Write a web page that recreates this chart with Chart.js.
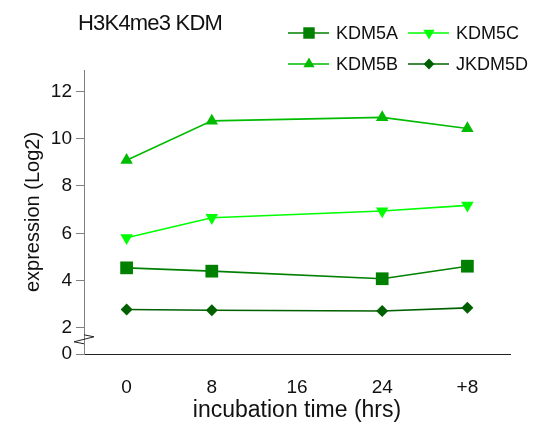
<!DOCTYPE html>
<html>
<head>
<meta charset="utf-8">
<script src="https://cdn.jsdelivr.net/npm/chart.js@4.4.1/dist/chart.umd.min.js"></script>
<style>
  html, body { margin: 0; padding: 0; background: #fff; }
  canvas { display: block; }
</style>
</head>
<body>
<canvas id="myChart" width="533" height="424"></canvas>
<script>
// data
const categories = ['0', '8', '16', '24', '+8'];
const kdm5a  = [4.54, 4.40, null, 4.08, 4.61];
const kdm5b  = [9.09, 10.75, null, 10.90, 10.43];
const kdm5c  = [5.81, 6.66, null, 6.94, 7.18];
const jkdm5d = [2.78, 2.75, null, 2.72, 2.85];
const yTicks = [0, 2, 4, 6, 8, 10, 12];
const yBreakAt = 0.9;   // the "0" sits just under the axis break

const FONT = "'Liberation Sans', Arial, sans-serif";

function series(label, data, color, style, radius, rotation) {
    return {
        label: label,
        data: data,
        borderColor: color,
        backgroundColor: color,
        borderWidth: 1.6,
        pointStyle: style,
        pointRadius: radius,
        pointHoverRadius: radius,
        pointRotation: rotation || 0,
        pointBorderWidth: 0,
        spanGaps: true,
        tension: 0
    };
}

const datasets = [
    series('KDM5A', kdm5a, '#008000', 'rect', 9),
    series('KDM5B', kdm5b, '#00bb00', 'triangle', 7.2),
    series('KDM5C', kdm5c, '#00ff00', 'triangle', 7.2, 180),
    series('JKDM5D', jkdm5d, '#006000', 'rectRot', 6)
];

// 2 x 2 legend, order as in the picture
const legendOrder = ['KDM5A', 'KDM5C', 'KDM5B', 'JKDM5D'];

// title, legend and axis break
const decorations = {
    id: 'decorations',
    afterDraw(chart) {
        const ctx = chart.ctx;
        ctx.save();

        // title
        ctx.fillStyle = '#111';
        ctx.font = '22px ' + FONT;
        ctx.textBaseline = 'alphabetic';
        ctx.textAlign = 'left';
        if ('letterSpacing' in ctx) ctx.letterSpacing = '-0.8px';
        ctx.fillText('H3K4me3 KDM', 78, 30);
        if ('letterSpacing' in ctx) ctx.letterSpacing = '0px';

        // legend
        ctx.font = '18px ' + FONT;
        ctx.textBaseline = 'middle';
        legendOrder.forEach((name, i) => {
            const ds = chart.data.datasets.find(d => d.label === name);
            const col = i % 2, row = Math.floor(i / 2);
            const x0 = 288 + col * 120;
            const y0 = 33 + row * 31;
            ctx.strokeStyle = ds.borderColor;
            ctx.lineWidth = 1.6;
            ctx.beginPath();
            ctx.moveTo(x0, y0);
            ctx.lineTo(x0 + 41, y0);
            ctx.stroke();
            ctx.fillStyle = ds.backgroundColor;
            Chart.helpers.drawPoint(ctx, {
                pointStyle: ds.pointStyle,
                radius: ds.pointRadius * 0.9,
                rotation: ds.pointRotation,
                borderWidth: 0
            }, x0 + 21, y0);
            ctx.fillStyle = '#111';
            ctx.fillText(name, x0 + 48, y0 + 1);
        });

        // zigzag break on the y axis
        const y = chart.scales.y;
        const ax = chart.chartArea.left;
        const yc = y.getPixelForValue(1.5);
        ctx.strokeStyle = '#222';
        ctx.lineWidth = 1;
        ctx.beginPath();
        ctx.moveTo(ax, yc - 5);
        ctx.lineTo(ax + 10, yc - 3);
        ctx.lineTo(ax - 10, yc + 2);
        ctx.lineTo(ax, yc + 4);
        ctx.stroke();

        ctx.restore();
    }
};

const ctx = document.getElementById('myChart').getContext('2d');
const chart = new Chart(ctx, {
    type: 'line',
    data: { labels: categories, datasets: datasets },
    plugins: [decorations],
    options: {
        responsive: false,
        animation: false,
        layout: { padding: { top: 70, right: 23, left: 0, bottom: 0 } },
        plugins: {
            legend: { display: false },
            title: { display: false },
            tooltip: { enabled: false }
        },
        scales: {
            x: {
                type: 'category',
                offset: true,
                grid: { display: false },
                border: { display: true, color: '#222', width: 1 },
                ticks: {
                    color: '#111',
                    font: { family: FONT, size: 19 },
                    padding: 14,
                    maxRotation: 0
                },
                title: {
                    display: true,
                    text: 'incubation time (hrs)',
                    color: '#111',
                    font: { family: FONT, size: 23 },
                    padding: { top: 0, bottom: 0 }
                },
                afterFit(scale) { scale.height = 70; }
            },
            y: {
                min: yBreakAt,
                max: 12.9,
                grid: {
                    drawOnChartArea: false,
                    drawTicks: true,
                    tickLength: 8,
                    color: '#808080'
                },
                border: { display: true, color: '#808080', width: 1 },
                afterBuildTicks(scale) {
                    scale.ticks = yTicks.map(v => ({ value: v === 0 ? yBreakAt : v }));
                },
                ticks: {
                    color: '#111',
                    font: { family: FONT, size: 19 },
                    padding: 4,
                    callback: v => (v === yBreakAt ? '0' : String(v))
                },
                title: {
                    display: true,
                    text: 'expression (Log2)',
                    color: '#111',
                    font: { family: FONT, size: 20 },
                    padding: { top: 21, bottom: 0 }
                },
                afterFit(scale) { scale.width = 84; }
            }
        }
    }
});
</script>
</body>
</html>
